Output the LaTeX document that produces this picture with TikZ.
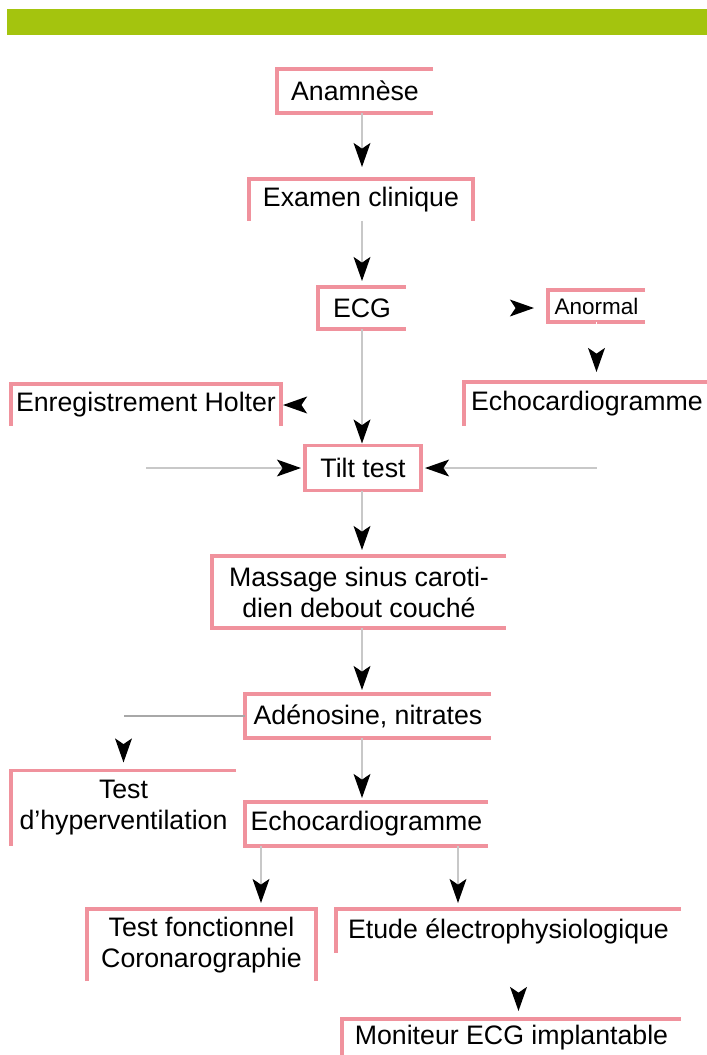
\documentclass[tikz,border=0pt]{standalone}
\usepackage{fontspec}
\setmainfont{Liberation Sans}
\usetikzlibrary{arrows.meta, calc}
\definecolor{cvert}{HTML}{A4C40E}
\definecolor{crose}{HTML}{F0929D}
\definecolor{cgris}{HTML}{C8C8C8}
\definecolor{cgrisf}{HTML}{A8A8A8}
\tikzset{
  every picture/.style={line width=1.4pt},
  etape/.style={inner sep=0pt, align=center, font=\fontsize{19}{22}\selectfont, minimum height=#1},
  etape/.default=1.05cm,
  fleche/.style={-{Stealth[length=6mm, width=4.2mm, inset=1.4mm, black]}, draw=cgris, line width=1.4pt, shorten >=1.5mm},
  fantome/.style={fleche, draw=white},
  bord/.style={draw=crose, line width=2.4pt},
}
\begin{document}
\begin{tikzpicture}[x=0.025cm, y=-0.025cm]
  \useasboundingbox (0,0) rectangle (707,1055);
  \fill[cvert] (7,9) rectangle (707,35);
  % colonne principale
  \node[etape, minimum width=3.85cm] (anam) at (355,91) {Anamnèse};
  \node[etape=1cm, minimum width=5.55cm] (exam) at (361,200) {Examen clinique};
  \node[etape=1cm, minimum width=2.15cm] (ecg) at (362,308) {ECG};
  \node[etape=0.75cm, minimum width=2.375cm, font=\fontsize{16}{19}\selectfont] (anormal) at (596.5,306) {Anormal};
  \node[etape=1cm, minimum width=6.7cm] (holter) at (146,405) {Enregistrement Holter};
  \node[etape, minimum width=6.1cm] (echoA) at (587,404) {Echocardiogramme};
  \node[etape=1.075cm, minimum width=2.85cm] (tilt) at (363,468) {Tilt test};
  \node[etape=1.75cm, minimum width=7.3cm] (massage) at (359,592) {Massage sinus caroti-\\dien debout couché};
  \node[etape, minimum width=6.1cm] (adeno) at (368,716) {Adénosine, nitrates};
  % branches du bas
  \node[etape=1.825cm, minimum width=5.575cm] (hyper) at (123.5,808) {Test\\d'hyperventilation};
  \node[etape, minimum width=6.025cm] (echoB) at (366.5,824) {Echocardiogramme};
  \node[etape=1.75cm, minimum width=5.675cm] (fonct) at (201.5,945) {Test fonctionnel\\Coronarographie};
  \node[etape, minimum width=8.575cm] (etude) at (508.5,931) {Etude électrophysiologique};
  \node[etape=0.9cm, minimum width=8.425cm] (monit) at (511.5,1038) {Moniteur ECG implantable};
  % bordures roses
  \foreach \n in {anam, ecg, anormal, massage, adeno, echoB}
    \draw[bord] (\n.north east) -- (\n.north west) -- (\n.south west) -- (\n.south east);
  \foreach \n in {exam, holter, fonct}
    \draw[bord] (\n.south west) -- (\n.north west) -- (\n.north east) -- (\n.south east);
  \foreach \n in {echoA, hyper, etude, monit}
    \draw[bord] (\n.north east) -- (\n.north west) -- (\n.south west);
  \draw[bord] (tilt.south west) rectangle (tilt.north east);
  % points de passage
  \coordinate (bifH) at (ecg.south |- holter.east);
  \coordinate (hcoude) at (holter.south |- tilt.west);
  \coordinate (ecoude) at (anormal.south |- tilt.east);
  \coordinate (hyp) at (hyper.north |- adeno.west);
  % fleches sans trait
  \draw[fantome, shorten >=0.35cm] (ecg.east) -- (ecg.east -| anormal.west);
  \draw[fantome, shorten >=0.25cm] (anormal.south) -- (anormal.south |- echoA.north);
  \draw[fantome, shorten >=0.05cm] (bifH) -- (holter.east);
  \draw[fantome, shorten >=0.2cm] (hyp) -- (hyper.north);
  \draw[fantome, shorten >=0.2cm] ([xshift=0.25cm]etude.south) coordinate (m1) -- (m1 |- monit.north);
  % fleches
  \draw[fleche, shorten >=0.3cm] (anam.south -| ecg) -- (exam.north -| ecg);
  \draw[fleche] (exam.south -| ecg) -- (ecg.north);
  \draw[fleche, shorten >=0.05cm] (ecg.south) -- (tilt.north -| ecg);
  \draw[fleche, shorten >=0.1cm] (hcoude) -- (tilt.west);
  \draw[fleche, shorten >=0.1cm] (ecoude) -- (tilt.east);
  \draw[fleche] (tilt.south -| ecg) -- (massage.north -| ecg);
  \draw[fleche, shorten >=0.1cm] (massage.south -| ecg) -- (adeno.north -| ecg);
  \draw[cgrisf] (adeno.west) -- (hyp);
  \draw[fleche, shorten >=0.1cm] (adeno.south -| ecg) -- (echoB.north -| ecg);
  \draw[fleche] ([xshift=0.4cm]echoB.south west) coordinate (f1) -- (f1 |- fonct.north);
  \draw[fleche] ([xshift=-0.75cm]echoB.south east) coordinate (f2) -- (f2 |- etude.north);
\end{tikzpicture}
\end{document}
